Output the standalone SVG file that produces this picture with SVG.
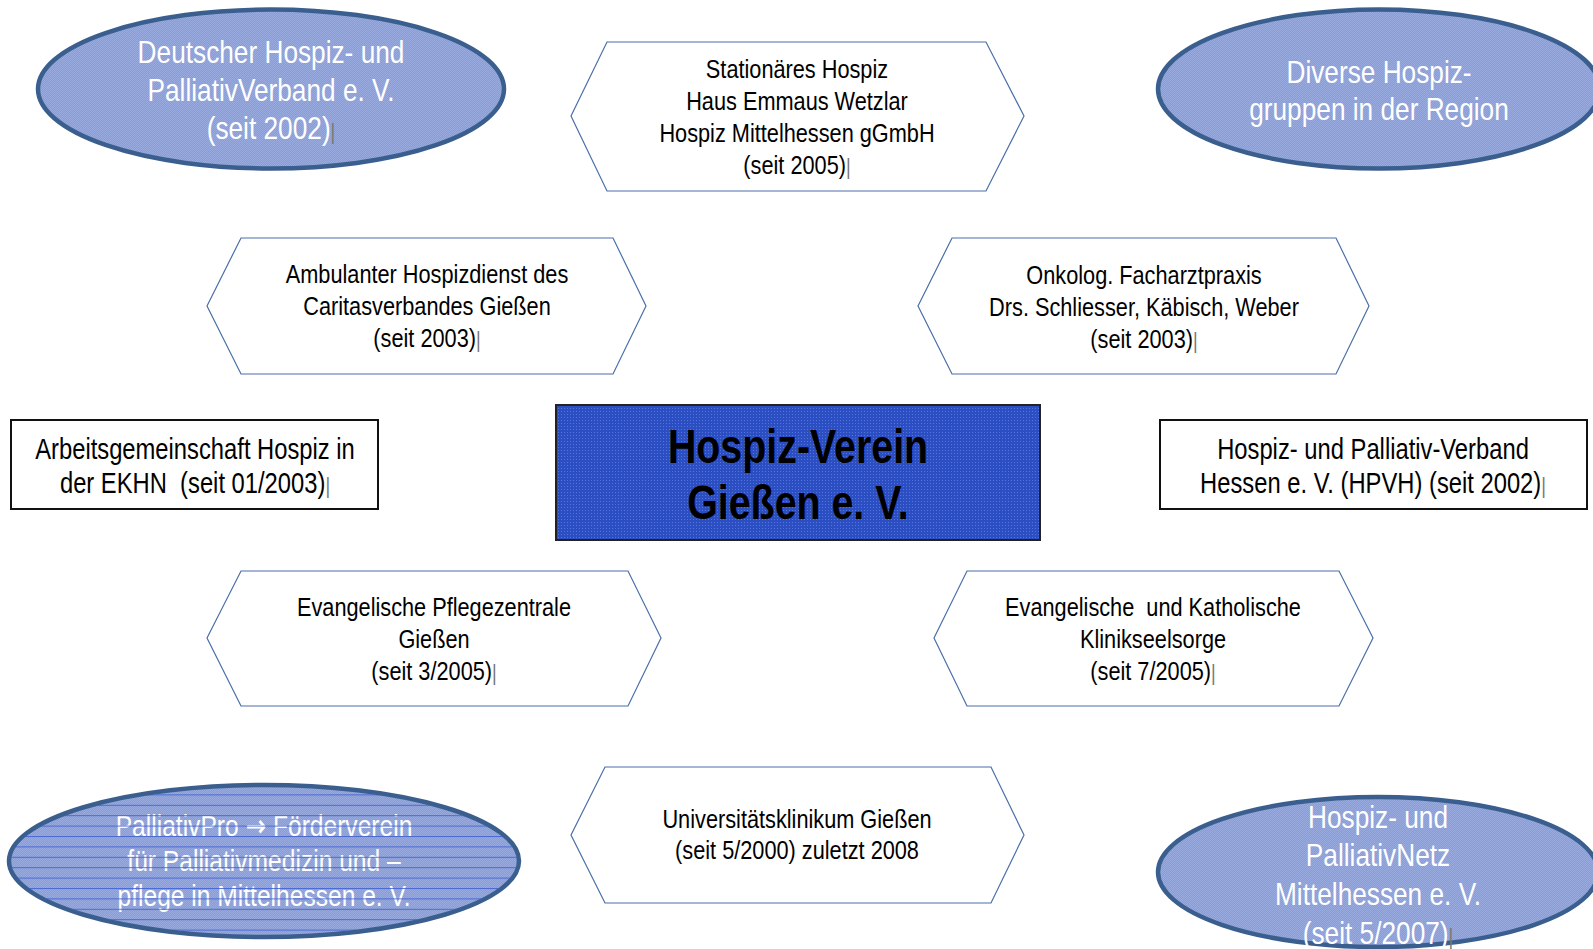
<svg xmlns="http://www.w3.org/2000/svg" width="1593" height="949" viewBox="0 0 1593 949">
<defs>
<pattern id="chk" width="2" height="2" patternUnits="userSpaceOnUse"><rect width="2" height="2" fill="#889cd6"/><rect width="1" height="1" fill="#98aade"/><rect x="1" y="1" width="1" height="1" fill="#98aade"/></pattern>
<pattern id="lines" width="8" height="10.4" patternUnits="userSpaceOnUse" y="4"><rect y="0" width="8" height="1" fill="#3f5fcf"/></pattern>
<pattern id="dots" width="3" height="3" patternUnits="userSpaceOnUse"><rect width="3" height="3" fill="#2b4ec3"/><rect width="1" height="1" fill="#5574da"/></pattern>
</defs>
<style>
text{font-family:"Liberation Sans",Arial,sans-serif;text-anchor:middle}
.ell{fill:url(#chk);stroke:#3a5f8f;stroke-width:4.5}
.hex{fill:#fff;stroke:#4a6fa8;stroke-width:1.2}
.box{fill:#fff;stroke:#111;stroke-width:2}
.w{fill:#fff;font-size:32px}
.w3{fill:#fff;font-size:30px}
.h{fill:#000;font-size:26.5px}
.b{fill:#000;font-size:29px}
.c{fill:#000;font-size:48px;font-weight:bold}
.tf{fill:#777;font-size:22px;font-weight:normal}
.ar{font-family:"DejaVu Sans",sans-serif;font-weight:bold;font-size:30px}
</style>
<g id="connectors"></g>
<g id="n-dhpv">
<ellipse class="ell" cx="271" cy="89" rx="233" ry="79.5"/>
<g transform="translate(271 0) scale(0.82 1)">
<text class="w" x="0" y="63">Deutscher Hospiz- und</text>
<text class="w" x="0" y="101">PalliativVerband e. V.</text>
<text class="w" x="0" y="139">(seit 2002)<tspan class="tf">|</tspan></text>
</g>
</g>
<g id="n-diverse">
<ellipse class="ell" cx="1379" cy="89" rx="221" ry="79.5"/>
<g transform="translate(1379 0) scale(0.82 1)">
<text class="w" x="0" y="83">Diverse Hospiz-</text>
<text class="w" x="0" y="120">gruppen in der Region</text>
</g>
</g>
<g id="n-palliativpro">
<ellipse class="ell" cx="264" cy="861" rx="255" ry="76"/>
<g transform="translate(264 0) scale(0.82 1)">
<text class="w3" x="0" y="836">PalliativPro <tspan class="ar">→</tspan> Förderverein</text>
<text class="w3" x="0" y="871">für Palliativmedizin und –</text>
<text class="w3" x="0" y="906">pflege in Mittelhessen e. V.</text>
</g>
<ellipse cx="264" cy="861" rx="253" ry="74" fill="url(#lines)" opacity="0.85"/>
</g>
<g id="n-netz">
<ellipse class="ell" cx="1378" cy="872" rx="220" ry="75"/>
<g transform="translate(1378 0) scale(0.82 1)">
<text class="w" x="0" y="828">Hospiz- und</text>
<text class="w" x="0" y="866">PalliativNetz</text>
<text class="w" x="0" y="905">Mittelhessen e. V.</text>
<text class="w" x="0" y="944">(seit 5/2007)<tspan class="tf">|</tspan></text>
</g>
</g>
<g id="n-stationaer">
<polygon class="hex" points="571,116 607,42 986,42 1024,116 986,191 607,191"/>
<g transform="translate(797 0) scale(0.82 1)">
<text class="h" x="0" y="78">Stationäres Hospiz</text>
<text class="h" x="0" y="110">Haus Emmaus Wetzlar</text>
<text class="h" x="0" y="142">Hospiz Mittelhessen gGmbH</text>
<text class="h" x="0" y="174">(seit 2005)<tspan class="tf">|</tspan></text>
</g>
</g>
<g id="n-ambulant">
<polygon class="hex" points="207,306 241,238 613,238 646,306 613,374 241,374"/>
<g transform="translate(427 0) scale(0.82 1)">
<text class="h" x="0" y="283">Ambulanter Hospizdienst des</text>
<text class="h" x="0" y="315">Caritasverbandes Gießen</text>
<text class="h" x="0" y="347">(seit 2003)<tspan class="tf">|</tspan></text>
</g>
</g>
<g id="n-onkolog">
<polygon class="hex" points="918,306 952,238 1336,238 1369,306 1336,374 952,374"/>
<g transform="translate(1144 0) scale(0.82 1)">
<text class="h" x="0" y="284">Onkolog. Facharztpraxis</text>
<text class="h" x="0" y="316">Drs. Schliesser, Käbisch, Weber</text>
<text class="h" x="0" y="348">(seit 2003)<tspan class="tf">|</tspan></text>
</g>
</g>
<g id="n-ekhn">
<rect class="box" x="11" y="420" width="367" height="89"/>
<g transform="translate(195 0) scale(0.82 1)">
<text class="b" x="0" y="459">Arbeitsgemeinschaft Hospiz in</text>
<text class="b" x="0" y="493" xml:space="preserve">der EKHN  (seit 01/2003)<tspan class="tf">|</tspan></text>
</g>
</g>
<g id="n-center">
<rect x="556" y="405" width="484" height="135" fill="url(#dots)" stroke="#222" stroke-width="2"/>
<g transform="translate(798 0) scale(0.82 1)">
<text class="c" x="0" y="463">Hospiz-Verein</text>
<text class="c" x="0" y="519">Gießen e. V.</text>
</g>
</g>
<g id="n-hpvh">
<rect class="box" x="1160" y="420" width="427" height="89"/>
<g transform="translate(1373 0) scale(0.82 1)">
<text class="b" x="0" y="459">Hospiz- und Palliativ-Verband</text>
<text class="b" x="0" y="493">Hessen e. V. (HPVH) (seit 2002)<tspan class="tf">|</tspan></text>
</g>
</g>
<g id="n-pflege">
<polygon class="hex" points="207,638 241,571 628,571 661,638 628,706 241,706"/>
<g transform="translate(434 0) scale(0.82 1)">
<text class="h" x="0" y="616">Evangelische Pflegezentrale</text>
<text class="h" x="0" y="648">Gießen</text>
<text class="h" x="0" y="680">(seit 3/2005)<tspan class="tf">|</tspan></text>
</g>
</g>
<g id="n-seelsorge">
<polygon class="hex" points="934,638 967,571 1339,571 1373,638 1339,706 967,706"/>
<g transform="translate(1153 0) scale(0.82 1)">
<text class="h" x="0" y="616" xml:space="preserve">Evangelische  und Katholische</text>
<text class="h" x="0" y="648">Klinikseelsorge</text>
<text class="h" x="0" y="680">(seit 7/2005)<tspan class="tf">|</tspan></text>
</g>
</g>
<g id="n-uni">
<polygon class="hex" points="571,835 605,767 991,767 1024,835 991,903 605,903"/>
<g transform="translate(797 0) scale(0.82 1)">
<text class="h" x="0" y="828">Universitätsklinikum Gießen</text>
<text class="h" x="0" y="859">(seit 5/2000) zuletzt 2008</text>
</g>
</g>
</svg>
